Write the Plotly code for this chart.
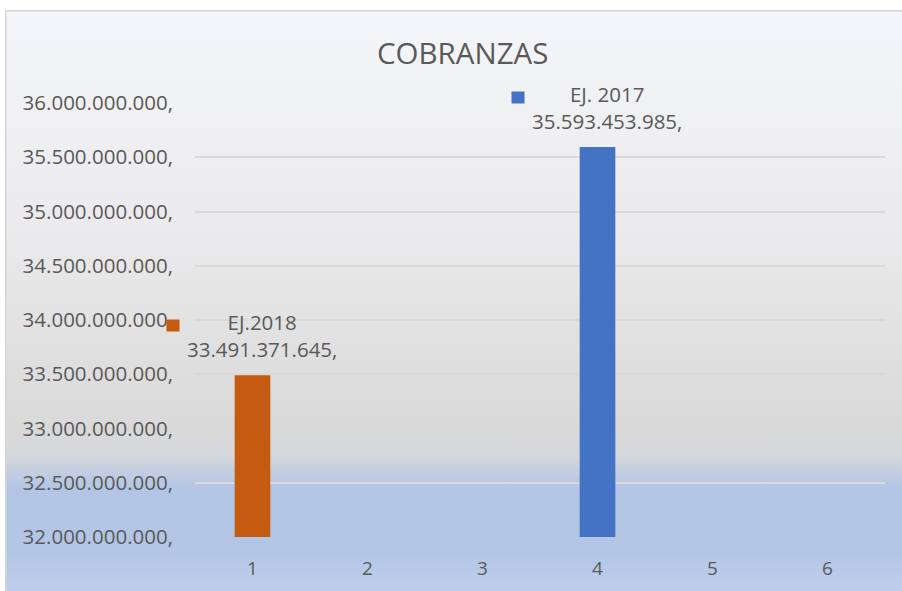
import base64
import plotly.graph_objects as go

# ---- data ----
categories = [1, 2, 3, 4, 5, 6]
series_names = ["EJ.2018", "EJ. 2017"]
series_cats = [1, 4]
series_values = [33491371645, 35593453985]
series_colors = ["#c55a11", "#4472c4"]
value_labels = ["33.491.371.645,", "35.593.453.985,"]
tick_values = [32e9, 32.5e9, 33e9, 33.5e9, 34e9, 34.5e9, 35e9, 35.5e9, 36e9]
tick_labels = ["32.000.000.000,", "32.500.000.000,", "33.000.000.000,", "33.500.000.000,",
               "34.000.000.000,", "34.500.000.000,", "35.000.000.000,", "35.500.000.000,",
               "36.000.000.000,"]

W, H = 902, 591
FONT = "Open Sans, Noto Sans, sans-serif"
TXT = "#595959"

svg = f'''<svg xmlns="http://www.w3.org/2000/svg" width="{W}" height="{H}" viewBox="0 0 {W} {H}" preserveAspectRatio="none">
<defs><linearGradient id="g" x1="0" y1="0" x2="0" y2="1">
<stop offset="0" stop-color="#f5f6f9"/>
<stop offset="0.35" stop-color="#ebebed"/>
<stop offset="0.70" stop-color="#d9d9d9"/>
<stop offset="0.74" stop-color="#d5d7dc"/>
<stop offset="0.795" stop-color="#b2c5e5"/>
<stop offset="0.90" stop-color="#b3c6e6"/>
<stop offset="1" stop-color="#c4d3ec"/>
</linearGradient></defs>
<rect x="5.75" y="10.75" width="{W + 10}" height="{H + 10}" fill="url(#g)" stroke="#d6d6d6" stroke-width="1.5"/>
</svg>'''
src = "data:image/svg+xml;base64," + base64.b64encode(svg.encode()).decode()

fig = go.Figure()
for name, c, v, col in zip(series_names, series_cats, series_values, series_colors):
    fig.add_trace(go.Bar(x=[c], y=[v], name=name, marker_color=col,
                         marker_line_width=0, width=0.31, showlegend=False))

x0, x1 = 195 / W, 885 / W
y_top_px, y_bot_px = 103, 537

annotations = []
for name, c, v, col, lab in zip(series_names, series_cats, series_values, series_colors, value_labels):
    annotations.append(dict(
        x=c, y=v, xref="x", yref="y", text=f"{name}<br>{lab}",
        showarrow=False, xanchor="center", yanchor="bottom",
        xshift=9, yshift=10, align="center",
        font=dict(family=FONT, size=20.5, color=TXT)))
    annotations.append(dict(
        x=c, y=v, xref="x", yref="y", text=" ",
        showarrow=False, xanchor="center", yanchor="middle",
        xshift=-80, yshift=50, width=10, height=9, bgcolor=col,
        font=dict(size=4)))

annotations.append(dict(
    x=462 / W, y=1 - 52 / H, xref="paper", yref="paper", text="COBRANZAS",
    showarrow=False, xanchor="center", yanchor="middle",
    font=dict(family=FONT, size=29.5, color=TXT)))

fig.update_layout(
    width=W, height=H,
    margin=dict(l=0, r=0, t=0, b=0, pad=0),
    paper_bgcolor="#ffffff",
    plot_bgcolor="rgba(0,0,0,0)",
    barmode="overlay",
    images=[dict(source=src, xref="paper", yref="paper", x=0, y=1,
                 sizex=1, sizey=1, xanchor="left", yanchor="top",
                 sizing="stretch", layer="below")],
    xaxis=dict(domain=[x0, x1], range=[0.5, 6.5], tickvals=categories,
               ticktext=[str(c) for c in categories], showgrid=False,
               zeroline=False, showline=False, ticks="", automargin=False,
               ticklabelstandoff=18,
               tickfont=dict(family=FONT, size=19, color=TXT)),
    yaxis=dict(domain=[1 - y_bot_px / H, 1 - y_top_px / H],
               range=[32e9, 36e9], tickvals=tick_values, ticktext=tick_labels,
               showgrid=True, gridcolor="#d9d9d9", gridwidth=2,
               zeroline=False, showline=False, ticks="", automargin=False,
               ticklabelstandoff=21,
               tickfont=dict(family=FONT, size=20.5, color=TXT)),
    annotations=annotations,
)

fig.write_html(
    "out.html",
    config={"displayModeBar": False},
    post_script="document.body.style.margin='0';document.documentElement.style.overflow='hidden';",
)
